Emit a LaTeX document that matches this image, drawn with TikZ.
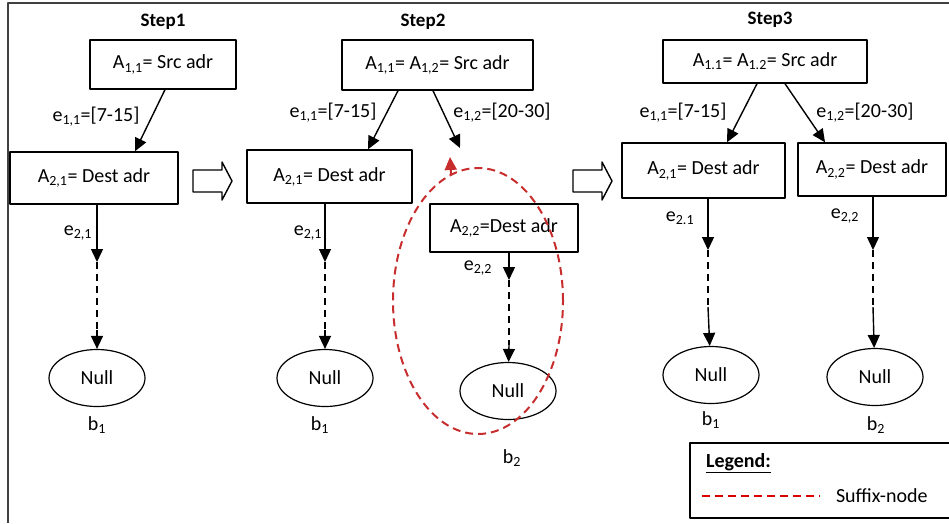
\documentclass[tikz,border=0pt]{standalone}
\usepackage{fontspec}
\setmainfont{Carlito}
\usetikzlibrary{arrows.meta,shapes.geometric}
\definecolor{suffixred}{RGB}{200,45,45}
\newcommand{\sbs}[1]{\textsubscript{#1}}
\tikzset{
  box/.style={draw, line width=1.4pt, inner sep=0pt},
  nullnode/.style={draw, ellipse, line width=1.2pt, inner sep=0pt, minimum width=96, minimum height=57},
  suffix/.style={draw=suffixred, line width=2pt, dash pattern=on 8pt off 5pt},
  gap/.style={line width=1.4pt, dash pattern=on 7pt off 5pt},
}
\begin{document}
\begin{tikzpicture}[x=1pt, y=-1pt, font=\fontsize{20}{22}\selectfont, line join=round,
  line width=1.4pt, >={Triangle[length=13pt,width=12pt]}]
\useasboundingbox (0,0) rectangle (949,523);
\draw[line width=1.6pt, black!75] (8,523) -- (8,3) -- (949,3);
% step 1
\path
(163,22) node[font=\fontsize{19}{21}\selectfont\bfseries] (st1) {Step1}
(163,64.5) node[box, minimum width=146, minimum height=49] (a1) {A\sbs{1,1}= Src adr}
(94,178) node[box, minimum width=168, minimum height=52] (d1) {A\sbs{2,1}= Dest adr}
(96,117) node (e1) {e\sbs{1,1}=[7-15]}
(78,233) node (f1) {e\sbs{2,1}}
(97,378) node[nullnode] (n1) {Null}
(97,425) node (b1) {b\sbs{1}}
(97,262) coordinate (t1)
(97,330) coordinate (u1);
\draw[->] ([xshift=2]a1.south) -- ([xshift=41]d1.north);
\draw[->] ([xshift=3]d1.south) -- (t1);
\draw[gap] (t1) -- (u1);
\draw[->] (u1) -- (n1);
% step 2
\path
(423,22) node[font=\fontsize{19}{21}\selectfont\bfseries] (st2) {Step2}
(437.5,65) node[box, minimum width=191, minimum height=50] (a2) {A\sbs{1,1}= A\sbs{1,2}= Src adr}
(329.5,176.5) node[box, minimum width=165, minimum height=53] (d2) {A\sbs{2,1}= Dest adr}
(504,228) node[box, minimum width=148, minimum height=48] (g2) {A\sbs{2,2}=Dest adr}
(333,113) node (e2) {e\sbs{1,1}=[7-15]}
(502,113) node (e3) {e\sbs{1,2}=[20-30]}
(308,233) node (f2) {e\sbs{2,1}}
(478,268) node (f3) {e\sbs{2,2}}
(325,378) node[nullnode] (n2) {Null}
(508,391) node[nullnode] (n3) {Null}
(320,425) node (b2) {b\sbs{1}}
(512,458) node (b3) {b\sbs{2}}
(478,301) node[suffix, ellipse, minimum width=170, minimum height=266] (sfx) {}
(460,148) coordinate (p2)
(450,157) coordinate (q2)
(325,262) coordinate (t2)
(325,330) coordinate (u2)
(509,280) coordinate (t3)
(509,345) coordinate (u3);
\draw[->] ([xshift=-39.5]a2.south) -- ([xshift=38.5]d2.north);
\draw[->] ([xshift=-4.5]a2.south) -- (p2);
\draw[->, suffixred, line width=2pt] (sfx.102) -- (q2);
\draw[->] ([xshift=-4.5]d2.south) -- (t2);
\draw[gap] (t2) -- (u2);
\draw[->] (u2) -- (n2);
\draw[->] ([xshift=5]g2.south) -- (t3);
\draw[gap] (t3) -- (u3);
\draw[->] (u3) -- (n3);
% step 3
\path
(770,20) node[font=\fontsize{19}{21}\selectfont\bfseries] (st3) {Step3}
(765,61.5) node[box, minimum width=204, minimum height=43] (a3) {A\sbs{1.1}= A\sbs{1.2}= Src adr}
(703.5,170.5) node[box, minimum width=163, minimum height=55] (d3) {A\sbs{2,1}= Dest adr}
(872,169.5) node[box, minimum width=148, minimum height=53] (g3) {A\sbs{2,2}= Dest adr}
(683,113) node (e4) {e\sbs{1,1}=[7-15]}
(865,113) node (e5) {e\sbs{1,2}=[20-30]}
(680,218) node (f4) {e\sbs{2.1}}
(845,216) node (f5) {e\sbs{2,2}}
(711,375) node[nullnode] (n4) {Null}
(875,377) node[nullnode] (n5) {Null}
(711,420) node (b4) {b\sbs{1}}
(876,425) node (b5) {b\sbs{2}}
(708,250) coordinate (t4)
(708,307) coordinate (u4)
(873,250) coordinate (t5)
(873,307) coordinate (u5);
\draw[->] ([xshift=-8]a3.south) -- ([xshift=23.5]d3.north);
\draw[->] ([xshift=20]a3.south) -- ([xshift=-47]g3.north);
\draw[->] ([xshift=4.5]d3.south) -- (t4);
\draw[gap] (t4) -- (u4);
\draw[->] (u4) -- (n4);
\draw[->] ([xshift=1]g3.south) -- (t5);
\draw[gap] (t5) -- (u5);
\draw[->] (u5) -- (n5);
% hollow arrows between the steps
\foreach \x in {193,573}
  \draw[line width=1.4pt] (\x,170) -- ++(29,0) -- ++(0,-8) -- ++(10,19) -- ++(-10,19)
    -- ++(0,-8) -- ++(-29,0) -- cycle;
% legend
\draw[line width=1.6pt] (949,443) -- (690,443) -- (690,518) -- (949,518);
\path
(702,463) node[anchor=west, font=\fontsize{20}{22}\selectfont\bfseries] (lg) {\underline{Legend:}}
(832,496) node[anchor=west] (lt) {Suffix-node}
(702,496) coordinate (l1)
(820,496) coordinate (l2);
\draw[suffix, draw=red!85!black] (l1) -- (l2);
\end{tikzpicture}
\end{document}
